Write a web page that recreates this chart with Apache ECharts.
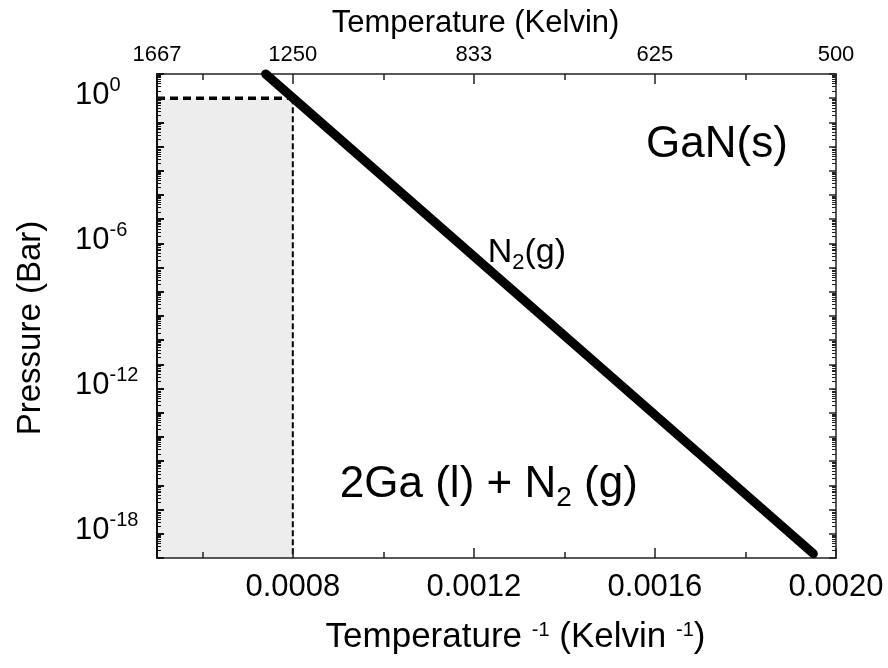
<!DOCTYPE html>
<html>
<head>
<meta charset="utf-8">
<script src="https://cdn.jsdelivr.net/npm/echarts@6/dist/echarts.min.js"></script>
<style>
  html, body { margin: 0; padding: 0; background: #fff; }
  #chart { width: 888px; height: 668px; }
</style>
</head>
<body>
<div id="chart"></div>
<script>
// Inverse temperature (1/K) ticks along the bottom axis
const invTempMajor = [0.0008, 0.0012, 0.0016, 0.0020];
const invTempMinor = [0.0006, 0.0010, 0.0014, 0.0018];
// Temperatures printed along the top axis, at their 1/T positions
const kelvinPos = [0.0005, 0.0008, 0.0012, 0.0016, 0.0020];
const kelvinText = ['1667', '1250', '833', '625', '500'];
// Pressure decades that carry a label
const pressureLabels = [1, 1e-6, 1e-12, 1e-18];
// N2 equilibrium pressure over GaN
const n2InvT = [0.00074, 0.00195];
const n2Pressure = [10, 1.5e-19];
// Shaded liquid-Ga region bounds
const liquidInvT = [0.0005, 0.0008];
const liquidPressure = [1e-19, 1];

const X_MIN = 0.0005, X_MAX = 0.0020;
const P_MIN = 1e-19, P_MAX = 10;

const FONT = '"Liberation Sans", Arial, Helvetica, sans-serif';
const INK = '#000';
const frame = { color: '#222', width: 1.5 };

// decade and in-decade tick positions for the log pressure axis
const decades = [];
const subDecades = [];
for (let k = -19; k <= 1; k++) {
  decades.push(Number('1e' + k));
  if (k < 1) for (let m = 2; m <= 9; m++) subDecades.push(Number(m + 'e' + k));
}

function kelvinLabel(v) {
  let best = 0;
  for (let i = 1; i < kelvinPos.length; i++) {
    if (Math.abs(kelvinPos[i] - v) < Math.abs(kelvinPos[best] - v)) best = i;
  }
  return kelvinText[best];
}

const chart = echarts.init(document.getElementById('chart'), null, { renderer: 'canvas' });

const xBase = { type: 'value', min: X_MIN, max: X_MAX, z: 10, splitLine: { show: false } };
const yBase = { type: 'log', logBase: 10, min: P_MIN, max: P_MAX, z: 10, splitLine: { show: false } };

const option = {
  backgroundColor: '#fff',
  animation: false,
  grid: { left: 157, right: 52, top: 74, bottom: 110, containLabel: false, outerBoundsMode: 'none' },
  xAxis: [
    Object.assign({}, xBase, {
      position: 'bottom',
      axisLine: { show: true, onZero: false, lineStyle: frame },
      axisTick: { show: true, inside: true, length: 10, customValues: invTempMajor, lineStyle: frame },
      axisLabel: {
        customValues: invTempMajor,
        formatter: v => v.toFixed(4),
        fontSize: 31, color: INK, fontFamily: FONT, margin: 14
      },
      name: '{n|Temperature }{s|-1}{n| (Kelvin }{s|-1}{n|)}',
      nameLocation: 'middle',
      nameGap: 62,
      nameTextStyle: {
        padding: [0, 0, 0, 38],
        rich: {
          n: { fontSize: 35, lineHeight: 35, color: INK, fontFamily: FONT },
          s: { fontSize: 20, lineHeight: 20, verticalAlign: 'top', color: INK, fontFamily: FONT }
        }
      }
    }),
    Object.assign({}, xBase, {
      position: 'bottom',
      axisLine: { show: false, onZero: false },
      axisTick: { show: true, inside: true, length: 6, customValues: invTempMinor, lineStyle: frame },
      axisLabel: { show: false }
    }),
    Object.assign({}, xBase, {
      position: 'top',
      axisLine: { show: true, onZero: false, lineStyle: frame },
      axisTick: { show: true, inside: true, length: 10, customValues: invTempMajor, lineStyle: frame },
      axisLabel: {
        customValues: kelvinPos,
        formatter: kelvinLabel,
        fontSize: 22, color: INK, fontFamily: FONT, margin: 8
      },
      name: 'Temperature (Kelvin)',
      nameLocation: 'middle',
      nameGap: 33,
      nameTextStyle: { fontSize: 31, color: INK, fontFamily: FONT, padding: [0, 42, 0, 0] }
    }),
    Object.assign({}, xBase, {
      position: 'top',
      axisLine: { show: false, onZero: false },
      axisTick: { show: true, inside: true, length: 6, customValues: invTempMinor, lineStyle: frame },
      axisLabel: { show: false }
    })
  ],
  yAxis: [
    Object.assign({}, yBase, {
      position: 'left',
      axisLine: { show: true, onZero: false, lineStyle: { color: '#111', width: 2 } },
      axisTick: { show: true, inside: true, length: 7, customValues: decades, lineStyle: { color: '#111', width: 2 } },
      axisLabel: {
        customValues: pressureLabels,
        align: 'left',
        margin: 82,
        padding: [0, 0, 15, 0],
        formatter: v => '{b|10}{s|' + Math.round(Math.log10(v)) + '}',
        rich: {
          b: { fontSize: 31, lineHeight: 31, padding: [9, 0, 0, 0], color: INK, fontFamily: FONT },
          s: { fontSize: 20, lineHeight: 20, verticalAlign: 'top', color: INK, fontFamily: FONT }
        }
      },
      name: 'Pressure (Bar)',
      nameLocation: 'middle',
      nameGap: 110,
      nameRotate: 90,
      nameTextStyle: { fontSize: 33, color: INK, fontFamily: FONT, padding: [0, 24, 0, 0] }
    }),
    Object.assign({}, yBase, {
      position: 'left',
      axisLine: { show: false, onZero: false },
      axisTick: { show: true, inside: true, length: 4, customValues: subDecades, lineStyle: { color: '#111', width: 1 } },
      axisLabel: { show: false }
    }),
    Object.assign({}, yBase, {
      position: 'right',
      axisLine: { show: true, onZero: false, lineStyle: frame },
      axisTick: { show: true, inside: true, length: 7, customValues: decades, lineStyle: frame },
      axisLabel: { show: false }
    }),
    Object.assign({}, yBase, {
      position: 'right',
      axisLine: { show: false, onZero: false },
      axisTick: { show: true, inside: true, length: 4, customValues: subDecades, lineStyle: { color: '#222', width: 1 } },
      axisLabel: { show: false }
    })
  ],
  series: [
    {
      // top boundary of the liquid region, plus its fill
      type: 'line',
      symbol: 'none',
      silent: true,
      z: 3,
      data: [[liquidInvT[0], liquidPressure[1]], [liquidInvT[1], liquidPressure[1]]],
      lineStyle: { color: '#000', width: 3.5, type: [8, 5] },
      markArea: {
        silent: true,
        itemStyle: { color: '#ededed' },
        data: [[{ coord: [liquidInvT[0], liquidPressure[0]] }, { coord: [liquidInvT[1], liquidPressure[1]] }]]
      }
    },
    {
      // right boundary of the liquid region
      type: 'line',
      symbol: 'none',
      silent: true,
      z: 3,
      data: [[liquidInvT[1], liquidPressure[1]], [liquidInvT[1], liquidPressure[0]]],
      lineStyle: { color: '#000', width: 2, type: [6, 3] }
    },
    {
      // N2 partial pressure line
      type: 'line',
      symbol: 'none',
      silent: true,
      clip: false,
      z: 12,
      data: n2InvT.map((x, i) => [x, n2Pressure[i]]),
      lineStyle: { color: '#000', width: 9, cap: 'round' }
    },
    {
      // phase-field annotations
      type: 'scatter',
      symbolSize: 0,
      silent: true,
      z: 12,
      data: [
        { value: [0.001737, Math.pow(10, -2.14)], label: { formatter: '{n|GaN(s)}' } },
        { value: [0.001317, Math.pow(10, -6.56)], label: { formatter: '{m|N}{ms|2}{m|(g)}' } },
        { value: [0.001233, Math.pow(10, -16.2)], label: { formatter: '{n|2Ga (l) + N}{ns|2}{n| (g)}' } }
      ],
      label: {
        show: true,
        position: 'inside',
        color: INK,
        opacity: 1,
        textBorderWidth: 0,
        rich: {
          n: { fontSize: 44, lineHeight: 44, padding: [0, 0, 11, 0], color: INK, fontFamily: FONT },
          ns: { fontSize: 28, lineHeight: 28, verticalAlign: 'bottom', color: INK, fontFamily: FONT },
          m: { fontSize: 34, lineHeight: 34, padding: [0, 0, 8, 0], color: INK, fontFamily: FONT },
          ms: { fontSize: 22, lineHeight: 22, verticalAlign: 'bottom', color: INK, fontFamily: FONT }
        }
      }
    }
  ]
};

chart.setOption(option);
</script>
</body>
</html>
